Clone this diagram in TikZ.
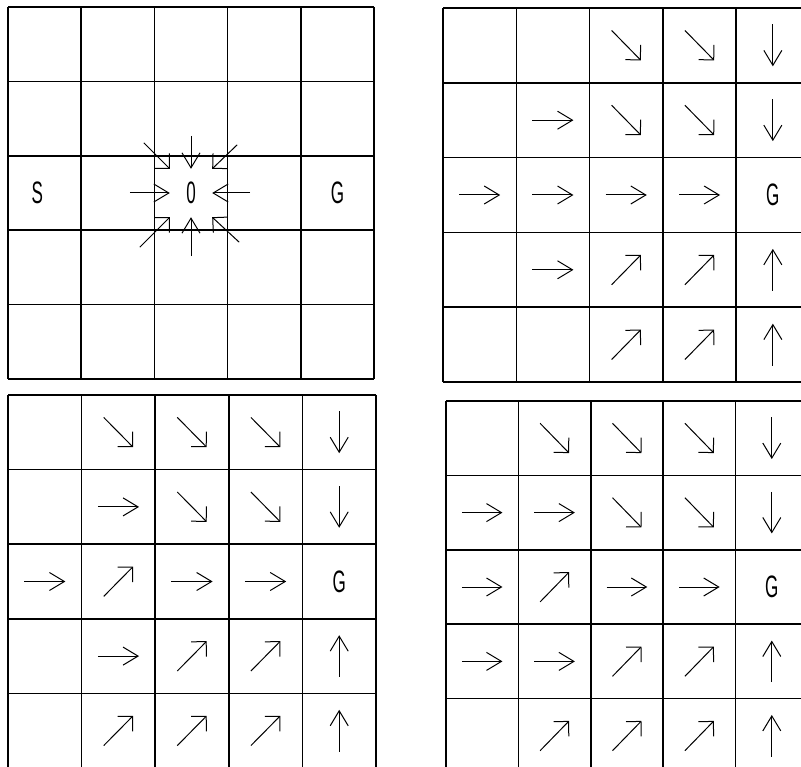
\documentclass[tikz,border=0pt]{standalone}
\usepackage{fontspec}
\newfontfamily\cellfont[FakeStretch=0.55]{Liberation Sans}
\usetikzlibrary{arrows.meta, calc}

% arrows of one grid: col/row/dx/dy, dy>0 is down
\newcommand{\cellarrows}[1]{%
  \foreach \c/\r/\dx/\dy in {#1}{
    \pgfmathtruncatemacro\dd{abs(\dx*\dy)}
    \ifnum\dd=1
      \draw[dg] ({\c+0.5-0.2*(\dx)},{\r+0.5-0.2*(\dy)}) -- ({\c+0.5+0.2*(\dx)},{\r+0.5+0.2*(\dy)});
    \else
      \draw[st] ({\c+0.5-0.28*(\dx)},{\r+0.5-0.28*(\dy)}) -- ({\c+0.5+0.28*(\dx)},{\r+0.5+0.28*(\dy)});
    \fi
  }}
\newcommand{\cellgrid}{%
  \foreach \i in {0,...,5}{
    \draw[cell] (\i,0) -- (\i,5);
    \draw[cell] (0,\i) -- (5,\i);
  }}

\begin{document}
\begin{tikzpicture}[x=1pt, y=-1pt,
    cell/.style={line width=1.5pt, line cap=square},
    st/.style={line width=1pt, -{Straight Barb[length=15pt,width=18pt]}},
    dg/.style={line width=1pt, -{Straight Barb[length=10.6pt,width=21.2pt]}},
    lbl/.style={font=\cellfont\fontsize{31}{31}\selectfont, inner sep=0pt}]
  \useasboundingbox (0,0) rectangle (801,767);
  \clip (0,0) rectangle (801,767);

  % top left: start, zero and goal
  \begin{scope}[shift={(8,7)}, x=73.2pt, y=-74.4pt]
    \cellgrid
    \node[lbl] (start) at (0.4,2.5) {S};
    \node[lbl, minimum width=42pt, minimum height=48pt] (zero) at (2.5,2.5) {0};
    \node[lbl] (gA) at (4.5,2.5) {G};
  \end{scope}
  \foreach \a/\ox/\oy in {north/0/33, south/0/-39, west/-40/0, east/38/0,
      north west/-26/26, north east/25/24, south west/-30/-30, south east/27/-25}{
    \pgfmathtruncatemacro\dd{abs(\ox*\oy)}
    \ifnum\dd=0
      \draw[st] ($(zero.\a)+(\ox pt,\oy pt)$) -- (zero.\a);
    \else
      \draw[dg] ($(zero.\a)+(\ox pt,\oy pt)$) -- (zero.\a);
    \fi
  }

  % top right
  \begin{scope}[shift={(443,8)}, x=73.3pt, y=-74.8pt]
    \cellgrid
    \node[lbl] (gB) at (4.5,2.5) {G};
    \cellarrows{2/0/1/1, 3/0/1/1, 4/0/0/1, 1/1/1/0, 2/1/1/1, 3/1/1/1, 4/1/0/1,
      0/2/1/0, 1/2/1/0, 2/2/1/0, 3/2/1/0, 1/3/1/0, 2/3/1/-1, 3/3/1/-1, 4/3/0/-1,
      2/4/1/-1, 3/4/1/-1, 4/4/0/-1}
  \end{scope}

  % bottom left
  \begin{scope}[shift={(8,395)}, x=73.6pt, y=-74.6pt]
    \cellgrid
    \node[lbl] (gC) at (4.5,2.5) {G};
    \cellarrows{1/0/1/1, 2/0/1/1, 3/0/1/1, 4/0/0/1, 1/1/1/0, 2/1/1/1, 3/1/1/1, 4/1/0/1,
      0/2/1/0, 1/2/1/-1, 2/2/1/0, 3/2/1/0, 1/3/1/0, 2/3/1/-1, 3/3/1/-1, 4/3/0/-1,
      1/4/1/-1, 2/4/1/-1, 3/4/1/-1, 4/4/0/-1}
  \end{scope}

  % bottom right
  \begin{scope}[shift={(446,401)}, x=72.4pt, y=-74.4pt]
    \cellgrid
    \node[lbl] (gD) at (4.5,2.5) {G};
    \cellarrows{1/0/1/1, 2/0/1/1, 3/0/1/1, 4/0/0/1, 0/1/1/0, 1/1/1/0, 2/1/1/1, 3/1/1/1, 4/1/0/1,
      0/2/1/0, 1/2/1/-1, 2/2/1/0, 3/2/1/0, 0/3/1/0, 1/3/1/0, 2/3/1/-1, 3/3/1/-1, 4/3/0/-1,
      1/4/1/-1, 2/4/1/-1, 3/4/1/-1, 4/4/0/-1}
  \end{scope}
\end{tikzpicture}
\end{document}
